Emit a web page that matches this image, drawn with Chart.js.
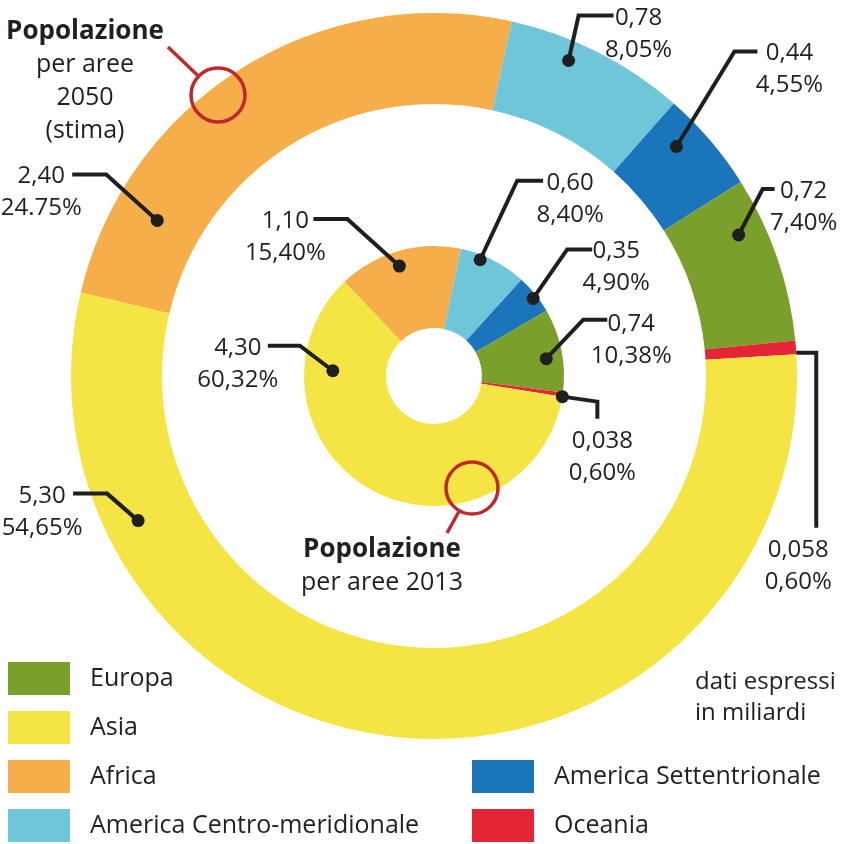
<!DOCTYPE html>
<html lang="it">
<head>
<meta charset="utf-8">
<title>Popolazione per aree</title>
<script src="https://cdn.jsdelivr.net/npm/chart.js"></script>
<style>
  html, body { margin: 0; padding: 0; background: #fff; }
  #wrap { position: relative; width: 841px; height: 844px; overflow: hidden;
          font-family: "Open Sans", "Liberation Sans", sans-serif; color: #231f20; }
  #chart { position: absolute; left: 0; top: 0; }
  .lbl { position: absolute; text-align: center; font-size: 24px; line-height: 32px;
         white-space: nowrap; transform: translateX(-50%); }
  .title { position: absolute; text-align: center; font-size: 25px; line-height: 33px;
           white-space: nowrap; transform: translateX(-50%); }
  .title b { font-size: 26px; font-weight: 700; }
  .leg { position: absolute; height: 33px; font-size: 25px; line-height: 33px; white-space: nowrap; }
  .leg .sw { position: absolute; left: 0; top: 0; width: 62px; height: 33px; }
  .leg .tx { position: absolute; top: -2px; }
  .note { position: absolute; left: 695px; top: 664px; font-size: 24px; line-height: 31px; }
</style>
</head>
<body>
<div id="wrap">
  <canvas id="chart" width="841" height="844"></canvas>
  <div class="title" style="left:85px; top:13px;"><b>Popolazione</b><br>per aree<br>2050<br>(stima)</div>
  <div class="title" style="left:382px; top:531px;"><b>Popolazione</b><br>per aree 2013</div>
  <div class="note">dati espressi<br>in miliardi</div>
  <div id="legend"></div>
  <div id="labels"></div>
</div>
<script>
// slices in clockwise order, starting from Africa
const areas = ['Africa', 'America Centro-meridionale', 'America Settentrionale', 'Europa', 'Oceania', 'Asia'];
const colors = ['#f6ae4a', '#6ec6d8', '#1b75bb', '#7b9f2b', '#e42535', '#f4e545'];

// population, billions
const values2050 = [2.40, 0.78, 0.44, 0.72, 0.058, 5.30];
const values2013 = [1.10, 0.60, 0.35, 0.74, 0.038, 4.30];
const valueText2050 = ['2,40', '0,78', '0,44', '0,72', '0,058', '5,30'];
const valueText2013 = ['1,10', '0,60', '0,35', '0,74', '0,038', '4,30'];
const pctText2050 = ['24.75%', '8,05%', '4,55%', '7,40%', '0,60%', '54,65%'];
const pctText2013 = ['15,40%', '8,40%', '4,90%', '10,38%', '0,60%', '60,32%'];

const legendLeft = ['Europa', 'Asia', 'Africa', 'America Centro-meridionale'];
const legendRight = ['America Settentrionale', 'Oceania'];

// callout layout: f = position along slice, r = position across ring,
// e = elbow offset from dot, h = second leg, l = label centre from leg end, dot = draw dot
const outerLayout = [
  { f: 0.18, r: 0.50, e: [-51, -46], h: [-34, 0], l: [-31, 0], dot: true },
  { f: 0.37, r: 0.78, e: [10, -45], h: [35, 0], l: [25, 0], dot: true },
  { f: 0.32, r: 0.68, e: [58, -95], h: [23, 0], l: [32, 0], dot: true },
  { f: 0.28, r: 0.70, e: [24, -46], h: [12, 0], l: [29, 0], dot: true },
  { f: 0.90, r: 1.00, e: [20, 0], h: [0, 175], l: [-18, 20], dot: false },
  { f: 0.80, r: 0.63, e: [-31, -27], h: [-34, 0], l: [-31, 0], dot: true }
];
const innerLayout = [
  { f: 0.47, r: 0.82, e: [-52, -47], h: [-34, 0], l: [-28, 0], dot: true },
  { f: 0.32, r: 0.94, e: [37, -79], h: [26, 0], l: [27, 0], dot: true },
  { f: 0.55, r: 0.95, e: [34, -49], h: [25, 0], l: [24, 0], dot: true },
  { f: 0.57, r: 0.80, e: [37, -39], h: [24, 0], l: [24, 2], dot: true },
  { f: 0.95, r: 1.00, e: [35, 5], h: [0, 17], l: [5, 20], dot: true },
  { f: 0.80, r: 0.65, e: [-33, -25], h: [-32, 0], l: [-30, 0], dot: true }
];

// magnifier markers, relative to chart centre
const markers = [
  { dx: -216, dy: -281, r: 27, tx: -266, ty: -329 },
  { dx: 38, dy: 112, r: 26, tx: 13, ty: 157 }
];

// legend
const legendBox = document.getElementById('legend');
function addLegend(names, x, y0) {
  names.forEach((name, i) => {
    const item = document.createElement('div');
    item.className = 'leg';
    item.style.left = x + 'px';
    item.style.top = (y0 + i * 49) + 'px';
    item.innerHTML = '<span class="sw" style="background:' + colors[areas.indexOf(name)] + '"></span>' +
      '<span class="tx" style="left:82px">' + name + '</span>';
    legendBox.appendChild(item);
  });
}
addLegend(legendLeft, 8, 662);
addLegend(legendRight, 472, 760);

// value labels (html text, placed by the plugin)
const labelBox = document.getElementById('labels');
function makeLabels(vals, pcts) {
  return vals.map((v, i) => {
    const d = document.createElement('div');
    d.className = 'lbl';
    d.innerHTML = v + '<br>' + pcts[i];
    labelBox.appendChild(d);
    return d;
  });
}
const labels2050 = makeLabels(valueText2050, pctText2050);
const labels2013 = makeLabels(valueText2013, pctText2013);

const calloutPlugin = {
  id: 'callouts',
  afterDraw(chart) {
    const ctx = chart.ctx;
    ctx.save();
    ctx.lineWidth = 4;
    ctx.strokeStyle = '#1f1f1f';
    ctx.fillStyle = '#1f1f1f';
    ctx.lineJoin = 'miter';
    [[0, outerLayout, labels2050], [2, innerLayout, labels2013]].forEach(([dsIndex, layout, divs]) => {
      const meta = chart.getDatasetMeta(dsIndex);
      meta.data.forEach((arc, i) => {
        const L = layout[i];
        const p = arc.getProps(['x', 'y', 'startAngle', 'endAngle', 'innerRadius', 'outerRadius'], true);
        const a = p.startAngle + (p.endAngle - p.startAngle) * L.f;
        const r = p.innerRadius + (p.outerRadius - p.innerRadius) * L.r;
        const x0 = p.x + Math.cos(a) * r;
        const y0 = p.y + Math.sin(a) * r;
        const x1 = x0 + L.e[0], y1 = y0 + L.e[1];
        const x2 = x1 + L.h[0], y2 = y1 + L.h[1];
        ctx.beginPath();
        ctx.moveTo(x0, y0);
        ctx.lineTo(x1, y1);
        ctx.lineTo(x2, y2);
        ctx.stroke();
        if (L.dot) {
          ctx.beginPath();
          ctx.arc(x0, y0, 6.5, 0, Math.PI * 2);
          ctx.fill();
        }
        divs[i].style.left = (x2 + L.l[0]) + 'px';
        divs[i].style.top = (y2 + L.l[1] - 16) + 'px';
      });
    });
    // red magnifier rings
    const c = chart.getDatasetMeta(0).data[0];
    ctx.strokeStyle = '#c1272d';
    ctx.lineWidth = 3.5;
    markers.forEach(m => {
      const cx = c.x + m.dx, cy = c.y + m.dy;
      const tx = c.x + m.tx, ty = c.y + m.ty;
      const len = Math.hypot(tx - cx, ty - cy);
      ctx.beginPath();
      ctx.arc(cx, cy, m.r, 0, Math.PI * 2);
      ctx.stroke();
      ctx.beginPath();
      ctx.moveTo(cx + (tx - cx) / len * m.r, cy + (ty - cy) / len * m.r);
      ctx.lineTo(tx, ty);
      ctx.stroke();
    });
    ctx.restore();
  }
};

new Chart(document.getElementById('chart'), {
  type: 'doughnut',
  data: {
    labels: areas,
    datasets: [
      { label: '2050', data: values2050, backgroundColor: colors, rotation: -76.7, weight: 91 },
      { label: 'spazio', data: [1], backgroundColor: 'rgba(0,0,0,0)', weight: 142 },
      { label: '2013', data: values2013, backgroundColor: colors, rotation: -43.6, weight: 82 }
    ]
  },
  options: {
    responsive: false,
    animation: false,
    events: [],
    cutout: 48,
    borderWidth: 0,
    offset: 0,
    hoverOffset: 0,
    layout: { padding: { left: 71, top: 13, right: 44, bottom: 105 } },
    plugins: {
      legend: { display: false },
      tooltip: { enabled: false }
    }
  },
  plugins: [calloutPlugin]
});
</script>
</body>
</html>
